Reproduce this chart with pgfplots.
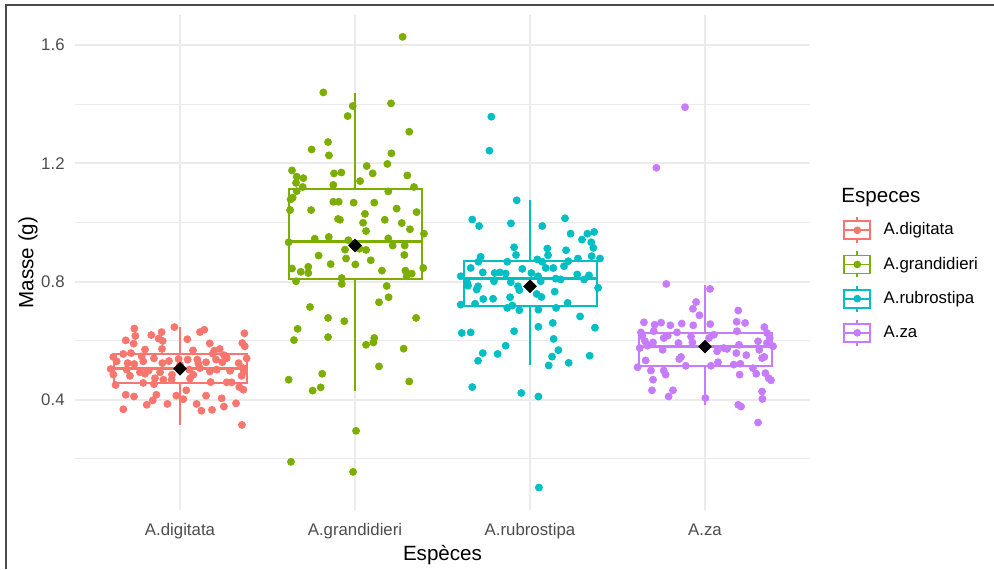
\documentclass[border=0pt]{standalone}
\usepackage{pgfplots}
\pgfplotsset{compat=1.18}
\usepackage{pgfplotstable}
\usepgfplotslibrary{statistics}
\usepackage{fontspec}
\setmainfont{Liberation Sans}
\definecolor{cdig}{HTML}{F8766D}
\definecolor{cgra}{HTML}{7CAE00}
\definecolor{crub}{HTML}{00BFC4}
\definecolor{cza}{HTML}{C77CFF}
\definecolor{gridc}{HTML}{EBEBEB}
\definecolor{tickc}{HTML}{4D4D4D}
\definecolor{framec}{HTML}{4A4A4A}

\pgfplotstableread{
x y
0.739 0.641
0.968 0.646
0.836 0.619
0.895 0.629
0.745 0.616
1.114 0.629
1.139 0.637
1.368 0.625
0.690 0.601
0.878 0.607
0.735 0.590
0.901 0.599
1.042 0.605
1.356 0.592
1.370 0.581
1.170 0.591
0.800 0.570
0.897 0.572
1.074 0.567
1.196 0.566
1.227 0.572
0.619 0.545
0.676 0.555
0.720 0.558
0.781 0.547
0.851 0.540
0.899 0.524
0.992 0.538
1.044 0.536
1.099 0.536
1.187 0.556
1.206 0.536
1.251 0.551
1.267 0.541
1.381 0.540
0.638 0.530
0.701 0.524
0.739 0.521
0.790 0.530
0.937 0.531
1.000 0.518
1.105 0.522
1.149 0.527
1.242 0.527
1.335 0.524
0.604 0.504
0.695 0.502
0.771 0.493
0.821 0.499
0.886 0.493
0.954 0.485
1.053 0.502
1.114 0.507
1.171 0.496
1.210 0.502
1.286 0.498
1.362 0.507
0.619 0.485
0.714 0.481
0.800 0.488
0.857 0.473
0.905 0.468
1.057 0.472
1.076 0.485
1.175 0.460
1.267 0.459
1.352 0.481
1.366 0.496
0.632 0.450
0.790 0.457
0.851 0.453
0.952 0.468
1.295 0.459
1.339 0.443
1.362 0.434
0.690 0.417
0.737 0.411
0.865 0.417
1.036 0.432
1.149 0.414
0.979 0.414
1.019 0.402
1.238 0.405
0.844 0.398
0.810 0.383
0.928 0.386
1.095 0.386
1.320 0.388
0.676 0.368
1.122 0.363
1.183 0.366
1.251 0.377
1.354 0.315
}\digdata

\pgfplotstableread{
x y
2.272 1.628
1.819 1.440
1.987 1.394
1.958 1.360
2.206 1.403
2.310 1.307
1.752 1.247
1.846 1.272
1.851 1.227
2.208 1.234
2.185 1.198
2.067 1.191
2.101 1.166
1.640 1.176
1.667 1.155
1.705 1.150
1.880 1.166
1.922 1.169
2.299 1.159
2.029 1.140
1.663 1.134
1.701 1.120
1.876 1.127
2.337 1.120
2.190 1.105
1.667 1.106
1.644 1.084
1.632 1.078
1.629 1.042
1.749 1.042
1.876 1.070
1.907 1.070
1.992 1.067
2.110 1.067
2.238 1.047
2.352 1.035
2.057 1.029
1.903 1.012
1.914 1.009
2.170 1.009
2.046 0.999
2.267 0.998
2.063 0.971
2.314 0.977
2.394 0.962
1.621 0.933
1.770 0.945
1.850 0.951
2.190 0.946
1.962 0.940
2.215 0.922
2.284 0.922
1.943 0.908
2.025 0.911
2.063 0.907
1.792 0.888
2.282 0.890
1.949 0.878
2.090 0.872
1.861 0.859
2.002 0.858
1.640 0.844
1.690 0.833
1.733 0.850
1.733 0.829
2.154 0.837
2.288 0.837
2.324 0.827
2.295 0.818
2.390 0.846
1.663 0.801
1.924 0.812
1.924 0.792
2.181 0.785
2.192 0.747
2.137 0.730
1.743 0.714
1.846 0.677
1.939 0.666
2.349 0.677
1.672 0.640
1.651 0.602
1.846 0.612
2.110 0.609
2.105 0.594
2.063 0.586
2.278 0.573
2.137 0.513
1.621 0.468
1.813 0.488
2.310 0.462
1.758 0.431
1.804 0.442
2.006 0.295
1.634 0.190
1.989 0.156
}\gradata

\pgfplotstableread{
x y
2.779 1.358
2.768 1.243
2.924 1.075
2.670 1.010
2.709 0.988
2.891 0.997
3.070 0.988
3.200 1.014
3.232 0.962
3.297 0.942
3.328 0.962
3.366 0.968
3.350 0.933
3.362 0.914
2.909 0.916
2.920 0.890
3.099 0.912
3.103 0.889
3.206 0.906
2.718 0.884
2.705 0.867
2.870 0.867
3.042 0.875
3.070 0.867
3.219 0.869
3.274 0.878
3.352 0.886
3.400 0.878
2.661 0.846
2.730 0.831
2.798 0.829
2.829 0.831
2.861 0.827
2.956 0.843
3.008 0.829
3.090 0.846
3.133 0.846
3.194 0.852
2.604 0.818
2.642 0.795
2.646 0.786
2.703 0.784
2.695 0.773
2.794 0.801
2.890 0.798
2.931 0.784
2.939 0.771
3.046 0.818
3.061 0.801
3.147 0.810
3.175 0.807
3.270 0.824
3.309 0.807
3.337 0.821
3.389 0.779
3.141 0.766
2.733 0.741
2.789 0.742
2.886 0.747
3.038 0.758
3.065 0.748
2.604 0.722
2.686 0.725
2.870 0.711
2.899 0.719
2.939 0.703
3.048 0.705
3.149 0.711
3.215 0.728
3.286 0.682
2.610 0.626
2.661 0.628
2.909 0.632
3.048 0.647
3.130 0.660
3.371 0.644
3.135 0.606
2.861 0.583
2.730 0.558
2.703 0.532
2.815 0.555
3.162 0.568
3.126 0.546
3.107 0.516
3.221 0.525
3.341 0.549
2.670 0.443
2.950 0.423
3.048 0.411
3.051 0.103
}\rubdata

\pgfplotstableread{
x y
3.722 1.185
3.886 1.390
3.779 0.792
4.029 0.775
3.949 0.731
3.931 0.708
3.968 0.686
4.190 0.702
3.651 0.662
3.712 0.654
3.749 0.661
3.802 0.652
3.867 0.658
3.933 0.652
4.030 0.656
4.181 0.664
4.229 0.660
4.339 0.646
3.634 0.628
3.642 0.615
3.707 0.632
3.764 0.609
3.840 0.628
3.920 0.614
4.051 0.620
4.183 0.632
4.354 0.626
4.370 0.609
3.657 0.598
3.703 0.594
3.787 0.617
3.848 0.592
3.928 0.594
4.023 0.609
4.107 0.575
4.194 0.586
4.303 0.598
4.354 0.592
4.389 0.581
3.627 0.575
3.672 0.583
3.758 0.569
4.069 0.564
4.126 0.572
4.179 0.558
4.236 0.551
4.310 0.569
4.339 0.545
3.863 0.545
3.853 0.538
3.661 0.533
3.890 0.515
4.034 0.515
4.074 0.527
4.164 0.519
4.202 0.522
4.274 0.507
4.326 0.541
3.615 0.510
3.691 0.499
3.764 0.499
3.775 0.485
4.198 0.485
4.293 0.488
4.345 0.490
4.364 0.473
3.703 0.468
3.697 0.432
3.817 0.432
3.792 0.411
4.002 0.406
4.377 0.466
4.326 0.428
4.328 0.403
4.190 0.383
4.206 0.377
4.303 0.323
}\zadata

\begin{document}
\begin{tikzpicture}
\useasboundingbox (0,0) rectangle (497pt,284.5pt);
\fill[white] (0,0) rectangle (497pt,284.5pt);
\begin{axis}[
  at={(37.5pt,29.5pt)}, anchor=south west,
  scale only axis, width=367.5pt, height=247.5pt,
  xmin=0.4, xmax=4.6, ymin=0.027, ymax=1.702,
  xtick={1,2,3,4},
  xticklabels={A.digitata,A.grandidieri,A.rubrostipa,A.za},
  ytick={0.4,0.8,1.2,1.6},
  yticklabels={0.4,0.8,1.2,1.6},
  minor ytick={0.2,0.6,1.0,1.4},
  xmajorgrids, ymajorgrids, yminorgrids,
  major grid style={gridc, line width=1pt},
  minor grid style={gridc, line width=0.5pt},
  axis line style={draw=none},
  major tick length=0pt, minor tick length=0pt,
  tick style={draw=none},
  tick label style={font=\fontsize{8.4}{10}\selectfont, text=tickc, inner sep=0pt},
  xticklabel style={anchor=base, yshift=-12.5pt},
  yticklabel style={anchor=east, xshift=-5pt},
  xlabel={Espèces}, ylabel={Masse (g)},
  label style={font=\fontsize{10.3}{12}\selectfont},
  xlabel style={at={(axis description cs:0.5,-0.102)}, anchor=base, inner sep=0pt},
  ylabel style={at={(axis description cs:-0.0639,0.5)}, anchor=center, inner sep=0pt},
  boxplot/draw direction=y,
  boxplot/every median/.style={line width=1.6pt},
  legend cell align=left,
  legend style={at={(axis description cs:1.0449,0.594)}, anchor=north west,
    draw=none, fill=none, inner sep=0pt, row sep=3.2pt, column sep=4.2pt,
    font=\fontsize{8.4}{10}\selectfont},
  legend image code/.code={
    \draw[#1, line width=0.9pt] (6.5pt,-6.5pt) -- (6.5pt,6.5pt);
    \draw[#1, line width=0.9pt, fill=white] (0pt,-4.5pt) rectangle (13pt,4.5pt);
    \draw[#1, line width=0.9pt] (0pt,0pt) -- (13pt,0pt);
    \fill[#1] (6.5pt,0pt) circle (1.7pt);
  },
]
\addlegendimage{cdig}\addlegendentry{A.digitata}
\addlegendimage{cgra}\addlegendentry{A.grandidieri}
\addlegendimage{crub}\addlegendentry{A.rubrostipa}
\addlegendimage{cza}\addlegendentry{A.za}

\addplot[forget plot, draw=cdig, fill=white, line width=1pt, boxplot prepared={draw position=1, lower whisker=0.315, lower quartile=0.458, median=0.505, upper quartile=0.556, upper whisker=0.647, box extend=0.76, whisker extend=0}] coordinates {};
\addplot[forget plot, draw=cgra, fill=white, line width=1pt, boxplot prepared={draw position=2, lower whisker=0.430, lower quartile=0.807, median=0.936, upper quartile=1.112, upper whisker=1.437, box extend=0.76, whisker extend=0}] coordinates {};
\addplot[forget plot, draw=crub, fill=white, line width=1pt, boxplot prepared={draw position=3, lower whisker=0.516, lower quartile=0.719, median=0.810, upper quartile=0.871, upper whisker=1.076, box extend=0.76, whisker extend=0}] coordinates {};
\addplot[forget plot, draw=cza, fill=white, line width=1pt, boxplot prepared={draw position=4, lower whisker=0.383, lower quartile=0.515, median=0.580, upper quartile=0.627, upper whisker=0.790, box extend=0.76, whisker extend=0}] coordinates {};

\addplot[forget plot, only marks, mark=*, mark size=1.75pt, color=cdig] table {\digdata};
\addplot[forget plot, only marks, mark=*, mark size=1.75pt, color=cgra] table {\gradata};
\addplot[forget plot, only marks, mark=*, mark size=1.75pt, color=crub] table {\rubdata};
\addplot[forget plot, only marks, mark=*, mark size=1.75pt, color=cza] table {\zadata};

\addplot[forget plot, only marks, mark=square*, mark size=2.2pt, mark options={rotate=45, fill=black, draw=black}] coordinates {(1,0.505) (2,0.922) (3,0.784) (4,0.580)};
\end{axis}
\node[anchor=base west, inner sep=0pt, font=\fontsize{10.3}{12}\selectfont] at (420.5pt,183.5pt) {Especes};
\draw[framec, line width=1pt] (3pt,0pt) -- (3pt,282pt) -- (497pt,282pt);
\end{tikzpicture}
\end{document}
